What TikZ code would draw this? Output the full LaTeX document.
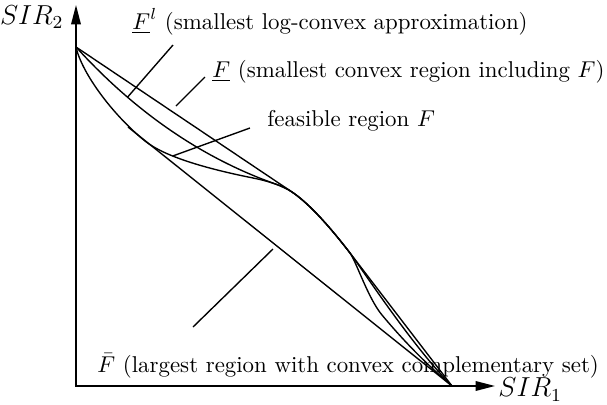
\documentclass[tikz,border=0pt]{standalone}
\usepackage{tikz}
\usetikzlibrary{arrows.meta}

\begin{document}
\begin{tikzpicture}[x=0.437pt, y=0.437pt,
  axis/.style={{Triangle[length=8.5pt,width=4.2pt]}-{Triangle[length=8.5pt,width=4.2pt]}, line width=0.7pt},
  curve/.style={line width=0.6pt, line join=round},
  ptr/.style={line width=0.6pt},
  lbl/.style={anchor=base west, inner sep=0pt},
  axlbl/.style={inner sep=0pt, font=\large}]
\useasboundingbox (-76,-18) rectangle (531,386);
\coordinate (O) at (0,0);
\coordinate (ytip) at (0,381);
\coordinate (xtip) at (419,0);
\coordinate (A) at (0,339);
\coordinate (B) at (376,0);
\coordinate (P1) at (69,245);
\coordinate (Q) at (177,208);
\coordinate (R) at (199.7,201.9);
\coordinate (T1) at (216,194);
\coordinate (T2) at (274,133);
\coordinate (N) at (306,71);
\coordinate (Fb0) at (52,259);
\draw[axis] (ytip) -- (O) -- (xtip);
% convex hull
\draw[curve] (A) -- (T1) .. controls (231.3,183.7) and (250.6,163.4) .. (T2) -- (B);
% feasible region
\draw[curve] (A) .. controls (6,312) and (38,270) .. (P1)
  .. controls (86.1,231.3) and (122.1,219) .. (Q) coordinate[pos=0.38] (onF)
  .. controls (194.3,204.5) and (207.3,199.9) .. (T1)
  .. controls (231.3,183.7) and (250.6,163.4) .. (T2)
  .. controls (280,125) and (292,87.8) .. (N)
  .. controls (327.9,44.7) and (351.3,21.1) .. (B);
% log-convex approximation
\draw[curve] (A) .. controls (59.3,273.8) and (125.9,228) .. (R) coordinate[pos=0.28] (onFl)
  .. controls (206.2,199.6) and (211.65,196.95) .. (T1)
  .. controls (231.3,183.7) and (250.6,163.4) .. (T2)
  .. controls (284,120) and (336,40) .. (B);
\draw[curve] (Fb0) -- (B);
\node[lbl] (lblFl) at (56,357) {$\underline{F}^l$ (smallest log-convex approximation)};
\node[lbl] (lblFu) at (136,309) {$\underline{F}$ (smallest convex region including $F$)};
\node[lbl] (lblF) at (191,259) {feasible region $F$};
\node[lbl] (lblFb) at (21,14) {$\bar{F}$ (largest region with convex complementary set)};
\node[axlbl, anchor=base east] (sir2) at (-12,362) {$SIR_2$};
\node[axlbl, anchor=base west] (sir1) at (422,-11) {$SIR_1$};
\coordinate (flTip) at (97,341);
\coordinate (fuTip) at (129,309);
\coordinate (fuEnd) at (100,280);
\coordinate (feTip) at (174,258);
\coordinate (fbTip) at (197,137);
\coordinate (fbEnd) at (117,59);
\draw[ptr] (flTip) -- (onFl);
\draw[ptr] (fuTip) -- (fuEnd);
\draw[ptr] (feTip) -- (onF);
\draw[ptr] (fbEnd) -- (fbTip);
\end{tikzpicture}
\end{document}
